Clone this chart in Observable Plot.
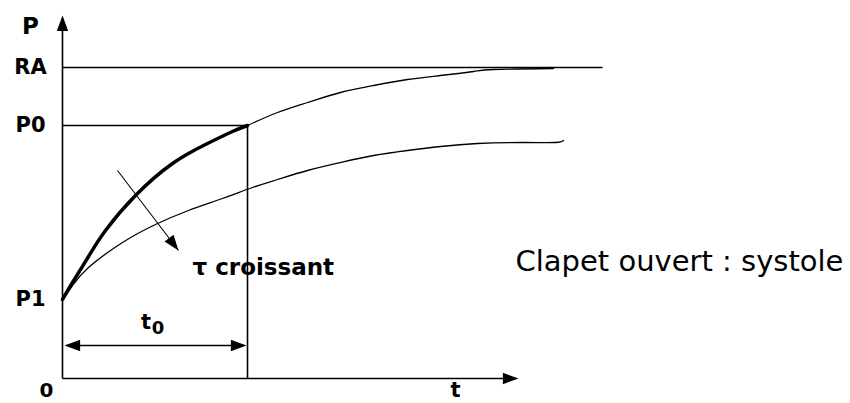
<!DOCTYPE html>
<html><head><meta charset="utf-8">
<script src="https://cdn.jsdelivr.net/npm/d3@7"></script>
<script src="https://cdn.jsdelivr.net/npm/@observablehq/plot@0.6"></script>
<style>body{margin:0;background:#fff} svg{display:block;background:#fff}</style>
</head><body><div id="chart"></div>
<script>
// ---- data (t and P in chart units) ----
const levelNames = ["0", "P1", "P0", "RA"];
const levelValues = [0, 79, 253, 311];
const axisTopValue = 363;      // tip of the P axis
const axisRightValue = 456;    // tip of the t axis
const t0Value = 185;
const raLineEnd = 540;
const t0ArrowP = 33;

const upperThickT = [0, 10, 26, 43, 73, 110, 143, 170, 185];
const upperThickP = [79, 96, 122, 148, 183, 215, 234, 247, 253];
const upperThinT = [185, 215, 245, 278, 311, 345, 378, 411, 431, 491];
const upperThinP = [253, 266, 276, 286, 293, 299, 303, 307, 309, 310];
const lowerT = [0, 10, 26, 60, 93, 126, 160, 190, 215, 245, 278, 311, 345, 378, 415, 461, 493, 501];
const lowerP = [79, 93, 111, 136, 154, 168, 180, 191, 199, 208, 216, 223, 228, 232, 235, 236, 236, 238];

const tauArrowT = [55, 116];
const tauArrowP = [208, 128];
const noteT = 453, noteP = 117;

const axisLabelP = "P", axisLabelT = "t";
const tauLabel = "τ croissant";
const noteLabel = "Clapet ouvert : systole";

// ---- build tables ----
const P0 = levelValues[2], RA = levelValues[3];
const zip = (ts, ps) => ts.map((t, i) => ({t, p: ps[i]}));
const thick = zip(upperThickT, upperThickP);
const thinUp = zip(upperThinT, upperThinP);
const lower = zip(lowerT, lowerP);

const segments = [
  {x1: 0, y1: 0, x2: 0, y2: axisTopValue - 8},
  {x1: 0, y1: 0, x2: axisRightValue - 8, y2: 0},
  {x1: 0, y1: RA, x2: raLineEnd, y2: RA},
  {x1: 0, y1: P0, x2: t0Value, y2: P0},
  {x1: t0Value, y1: 0, x2: t0Value, y2: P0},
  {x1: 4, y1: t0ArrowP, x2: t0Value - 4, y2: t0ArrowP}
];
const tauAngle = Math.atan2(tauArrowT[1] - tauArrowT[0], tauArrowP[1] - tauArrowP[0]) * 180 / Math.PI;
const heads = [
  {x: 0, y: axisTopValue, a: 0},
  {x: axisRightValue, y: 0, a: 90},
  {x: 2, y: t0ArrowP, a: -90},
  {x: t0Value - 1, y: t0ArrowP, a: 90},
  {x: tauArrowT[1], y: tauArrowP[1], a: tauAngle}
];
const arrowHead = {
  draw(ctx, size) {
    const r = Math.sqrt(size / Math.PI);
    ctx.moveTo(0, 0);
    ctx.lineTo(-0.95 * r, 2.6 * r);
    ctx.lineTo(0.95 * r, 2.6 * r);
    ctx.closePath();
  }
};
const labelFont = "DejaVu Sans";
const tickLabels = levelNames.slice(1).map((n, i) => ({n, v: levelValues[i + 1]}));

const chart = Plot.plot({
  width: 850, height: 403,
  marginLeft: 62, marginRight: 0, marginTop: 15, marginBottom: 25,
  x: {domain: [0, 788], axis: null},
  y: {domain: [0, 363], axis: null},
  marks: [
    Plot.link(segments, {x1: "x1", y1: "y1", x2: "x2", y2: "y2", stroke: "black", strokeWidth: 1.6}),
    Plot.link([{}], {x1: tauArrowT[0], y1: tauArrowP[0], x2: tauArrowT[1], y2: tauArrowP[1], stroke: "black", strokeWidth: 1.1}),
    Plot.line(lower, {x: "t", y: "p", stroke: "black", strokeWidth: 1.3, curve: "natural"}),
    Plot.line(thinUp, {x: "t", y: "p", stroke: "black", strokeWidth: 1.3, curve: "natural"}),
    Plot.line(thick, {x: "t", y: "p", stroke: "black", strokeWidth: 3.5, curve: "natural"}),
    Plot.dot(heads, {x: "x", y: "y", rotate: "a", r: 6, symbol: arrowHead, fill: "black", stroke: "none"}),
    Plot.text(tickLabels, {x: 0, y: "v", text: "n", dx: -32, fontFamily: labelFont, fontWeight: "bold", fontSize: 21, textAnchor: "middle"}),
    Plot.text([axisLabelP], {x: 0, y: axisTopValue, dx: -32, dy: 11, fontFamily: labelFont, fontWeight: "bold", fontSize: 23, textAnchor: "middle"}),
    Plot.text([levelNames[0]], {x: 0, y: 0, dx: -16, dy: 12, fontFamily: labelFont, fontWeight: "bold", fontSize: 20, textAnchor: "middle"}),
    Plot.text([axisLabelT], {x: axisRightValue, y: 0, dx: -63, dy: 12, fontFamily: labelFont, fontWeight: "bold", fontSize: 21, textAnchor: "middle"}),
    Plot.text(["t"], {x: t0Value / 2, y: t0ArrowP, dx: -9, dy: -23, fontFamily: labelFont, fontWeight: "bold", fontSize: 21, textAnchor: "middle"}),
    Plot.text(["0"], {x: t0Value / 2, y: t0ArrowP, dx: 3, dy: -17, fontFamily: labelFont, fontWeight: "bold", fontSize: 18, textAnchor: "middle"}),
    Plot.text([tauLabel], {x: tauArrowT[1], y: tauArrowP[1], dx: 14, dy: 17, fontFamily: labelFont, fontWeight: "bold", fontSize: 23, textAnchor: "start"}),
    Plot.text([noteLabel], {x: noteT, y: noteP, fontFamily: "DejaVu Sans", fontSize: 29, textAnchor: "start"})
  ]
});
document.getElementById("chart").appendChild(chart);
</script>
</body></html>
